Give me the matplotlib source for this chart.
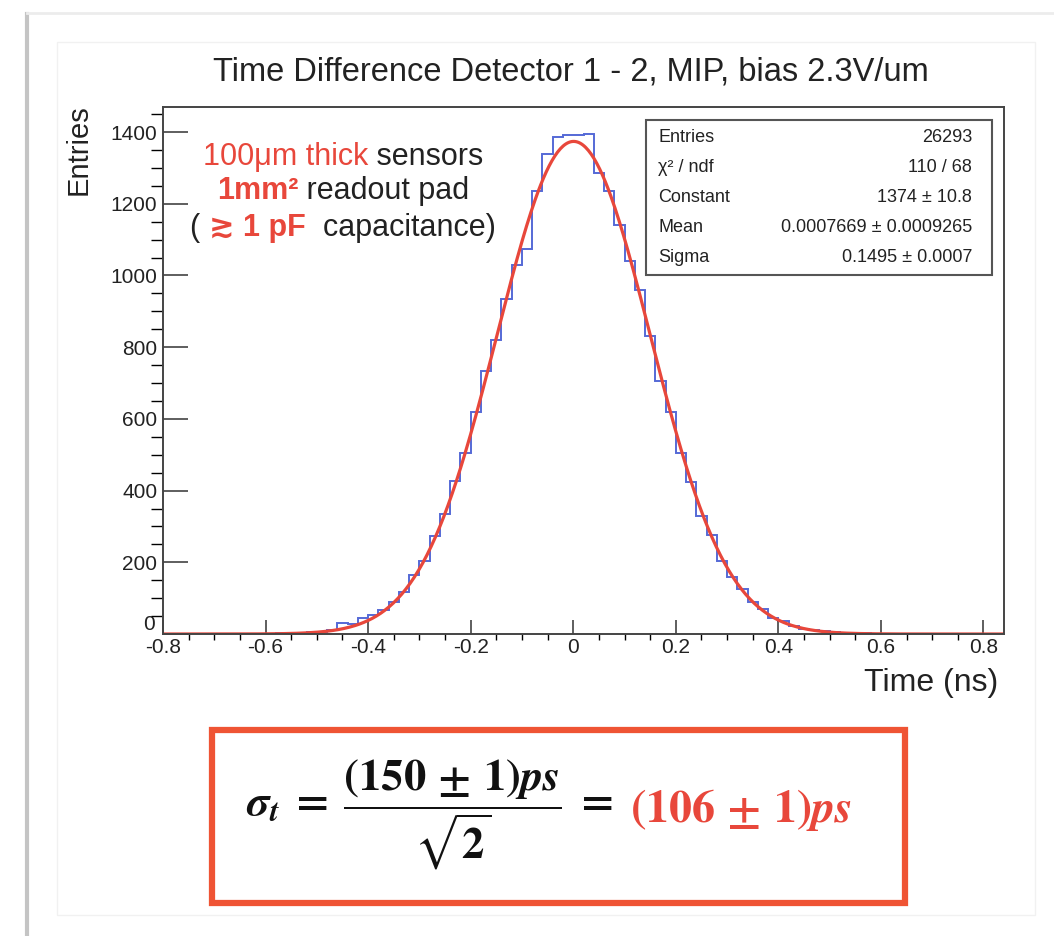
import numpy
from matplotlib import pyplot
from matplotlib.patches import Rectangle
from matplotlib.lines import Line2D
from matplotlib.transforms import ScaledTranslation

pyplot.rcParams['font.family'] = ['Liberation Sans', 'DejaVu Sans']
pyplot.rcParams['mathtext.fontset'] = 'stix'

# histogram: 82 bins of 0.02 ns from -0.80 to 0.84
bin_low = -0.80
bin_high = 0.84
counts = [
    0, 0, 1, 0, 0, 1, 0, 1, 0, 1,
    1, 2, 1, 3, 5, 6, 12, 30, 28, 45,
    52, 66, 90, 118, 165, 205, 272, 335, 428, 505,
    620, 735, 820, 935, 1030, 1075, 1235, 1338, 1385, 1391,
    1393, 1396, 1286, 1236, 1140, 1040, 960, 830, 705, 620,
    505, 425, 330, 275, 205, 160, 125, 88, 70, 45,
    35, 22, 14, 10, 8, 5, 4, 2, 2, 1,
    1, 0, 1, 0, 0, 0, 1, 0, 0, 0,
    0, 0,
]

# gaussian fit results
fit_constant = 1374.0
fit_mean = 0.0007669
fit_sigma = 0.1495

stats_names = ["Entries", "χ² / ndf", "Constant", "Mean", "Sigma"]
stats_values = ["26293", "110 / 68", "1374 ± 10.8", "0.0007669 ± 0.0009265", "0.1495 ± 0.0007"]

x_ticks = [-0.8, -0.6, -0.4, -0.2, 0.0, 0.2, 0.4, 0.6, 0.8]
x_tick_labels = ["-0.8", "-0.6", "-0.4", "-0.2", "0", "0.2", "0.4", "0.6", "0.8"]
y_ticks = [0, 200, 400, 600, 800, 1000, 1200, 1400]

RED = "#e8473b"
BOX_RED = "#ef5434"
BLUE = "#5569d6"
DARK = "#333333"
TEXT = "#222222"

W, H = 1054, 936
fig = pyplot.figure(figsize=(W / 100, H / 100), dpi=100)
fig.patch.set_facecolor("white")


def fx(px):
    return px / W


def fy(py):
    return 1 - py / H


# slide background decorations
fig.add_artist(Line2D([fx(27), fx(27)], [fy(14), 0], color="#c4c4c4", lw=3))
fig.add_artist(Line2D([fx(27), 1], [fy(13), fy(13)], color="#ececec", lw=2))
fig.add_artist(Rectangle((fx(57), fy(915)), fx(1035) - fx(57), fy(42) - fy(915),
                         fill=False, ec="#f1f1f1", lw=1))

ax = fig.add_axes([fx(163), fy(634), fx(1004) - fx(163), fy(107) - fy(634)])
edges = numpy.linspace(bin_low, bin_high, len(counts) + 1)
ax.stairs(counts, edges, color=BLUE, lw=1.4)

xs = numpy.linspace(bin_low, bin_high, 600)
ax.plot(xs, fit_constant * numpy.exp(-0.5 * ((xs - fit_mean) / fit_sigma) ** 2), color=RED, lw=2.3)

ax.set_xlim(bin_low, bin_high)
ax.set_ylim(0, 1470)
ax.set_xticks(x_ticks, x_tick_labels)
ax.set_yticks(y_ticks, [str(v) for v in y_ticks])
ax.set_xticks(numpy.arange(-0.8, 0.84, 0.05), minor=True)
ax.set_yticks(numpy.arange(0, 1470, 50), minor=True)
ax.tick_params(axis="both", direction="in", colors=DARK, labelsize=15, width=1.1, labelcolor=TEXT)
ax.tick_params(axis="x", which="major", length=10, pad=3)
ax.tick_params(axis="x", which="minor", length=4.5, width=1.0)
ax.tick_params(axis="y", which="major", length=18, pad=4)
ax.tick_params(axis="y", which="minor", length=9, width=1.0)
for spine in ax.spines.values():
    spine.set_color("#444444")
    spine.set_linewidth(1.4)
# lift the "0" of the y axis a little so it clears the "-0.8" below it
zero_label = ax.get_yticklabels()[0]
zero_label.set_transform(zero_label.get_transform() + ScaledTranslation(-2 / 72, 8 / 72, fig.dpi_scale_trans))

fig.text(fx(571), fy(72), "Time Difference Detector 1 - 2, MIP, bias 2.3V/um",
         ha="center", va="center", fontsize=23.5, color=TEXT)
fig.text(fx(79), fy(104), "Entries", rotation=90, ha="center", va="top", fontsize=21, color=TEXT)
fig.text(fx(998), fy(683), "Time (ns)", ha="right", va="center", fontsize=23, color=TEXT)

# stats box
fig.add_artist(Rectangle((fx(646), fy(275)), fx(992) - fx(646), fy(120) - fy(275),
                         fill=True, fc="white", ec="#555555", lw=1.5))
row_y = [137, 167, 198, 228, 257]
for name, value, py in zip(stats_names, stats_values, row_y):
    fig.text(fx(658), fy(py), name, ha="left", va="center", fontsize=13, color=TEXT)
    fig.text(fx(972), fy(py), value, ha="right", va="center", fontsize=13, color=TEXT)

# annotation, lines made of coloured pieces
annotation_lines = [
    (157, [("100μm thick", RED, "normal"), (" sensors", TEXT, "normal")]),
    (191, [("1mm²", RED, "bold"), (" readout pad", TEXT, "normal")]),
    (228, [("( ", TEXT, "normal"), ("≳ 1 pF", RED, "bold"), ("  capacitance)", TEXT, "normal")]),
]
renderer = fig.canvas.get_renderer()
for py, pieces in annotation_lines:
    texts = [fig.text(0, fy(py), s, color=c, fontweight=w, fontsize=22, ha="left", va="center")
             for s, c, w in pieces]
    widths = [t.get_window_extent(renderer).width for t in texts]
    x = 343 - sum(widths) / 2
    for t, w in zip(texts, widths):
        t.set_x(fx(x))
        x += w

# result box
fig.add_artist(Rectangle((fx(212), fy(903)), fx(905) - fx(212), fy(730) - fy(903),
                         fill=False, ec=BOX_RED, lw=4.5))
fig.text(fx(246), fy(815),
         r"$\mathbfit{\sigma}_{\mathbfit{t}}\;\mathbf{=}\;\dfrac{\mathbf{(150\,\pm\,1)}\mathbfit{ps}}{\sqrt{\mathbf{2}}}\;\mathbf{=}$",
         ha="left", va="center", fontsize=32, color="#111111")
fig.text(fx(630), fy(810), r"$\mathbf{(106\,\pm\,1)}\mathbfit{ps}$",
         ha="left", va="center", fontsize=33, color=RED)

fig.savefig("out.png", dpi=100)
